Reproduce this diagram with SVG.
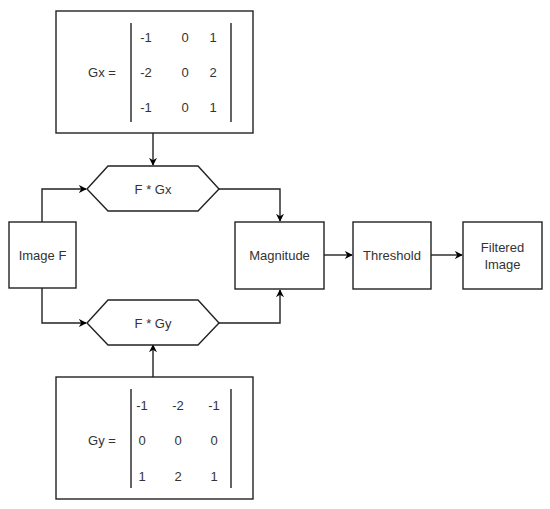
<svg xmlns="http://www.w3.org/2000/svg" width="550" height="509" viewBox="0 0 550 509">
<defs>
<marker id="arr" viewBox="0 0 10 10" refX="9" refY="5" markerWidth="8" markerHeight="8" markerUnits="userSpaceOnUse" orient="auto">
<path d="M0,0 L10,5 L0,10 L3,5 Z" fill="#000"/>
</marker>
<style>
.box{fill:#fff;stroke:#222;stroke-width:1.4}
.bar{fill:none;stroke:#222;stroke-width:1.4}
.t{font-family:"Liberation Sans",Arial,sans-serif;font-size:13px;fill:#333;text-anchor:middle;dominant-baseline:central}
.conn{fill:none;stroke:#222;stroke-width:1.4;marker-end:url(#arr)}
</style>
</defs>
<rect width="550" height="509" fill="#fff"/>
<g id="connectors">
<path class="conn" d="M153,133 L153,165"/>
<path class="conn" d="M153,377 L153,345"/>
<path class="conn" d="M42,222 L42,189 L86,189"/>
<path class="conn" d="M42,288 L42,323 L86,323"/>
<path class="conn" d="M219,189 L280,189 L280,221"/>
<path class="conn" d="M219,323 L280,323 L280,290"/>
<path class="conn" d="M324,255 L352,255"/>
<path class="conn" d="M431,255 L462,255"/>
</g>
<g id="gx">
<rect class="box" x="56" y="11" width="197" height="122"/>
<line class="bar" x1="131" y1="23" x2="131" y2="122"/>
<line class="bar" x1="231" y1="23" x2="231" y2="122"/>
<text class="t" x="102" y="72">Gx =</text>
<text class="t" x="146" y="37">-1</text><text class="t" x="185" y="37">0</text><text class="t" x="213" y="37">1</text>
<text class="t" x="146" y="72">-2</text><text class="t" x="185" y="72">0</text><text class="t" x="213" y="72">2</text>
<text class="t" x="146" y="107">-1</text><text class="t" x="185" y="107">0</text><text class="t" x="213" y="107">1</text>
</g>
<g id="gy">
<rect class="box" x="56" y="377" width="197" height="122"/>
<line class="bar" x1="131" y1="389" x2="131" y2="488"/>
<line class="bar" x1="231" y1="389" x2="231" y2="488"/>
<text class="t" x="102" y="440">Gy =</text>
<text class="t" x="142" y="405">-1</text><text class="t" x="178" y="405">-2</text><text class="t" x="214" y="405">-1</text>
<text class="t" x="142" y="440">0</text><text class="t" x="178" y="440">0</text><text class="t" x="214" y="440">0</text>
<text class="t" x="142" y="476">1</text><text class="t" x="178" y="476">2</text><text class="t" x="214" y="476">1</text>
</g>
<g id="fgx">
<polygon class="box" points="87,189 108,166 198,166 219,189 198,211 108,211"/>
<text class="t" x="153" y="189">F * Gx</text>
</g>
<g id="fgy">
<polygon class="box" points="87,323 108,300 198,300 219,323 198,345 108,345"/>
<text class="t" x="153" y="323">F * Gy</text>
</g>
<g id="imagef">
<rect class="box" x="9" y="222" width="67" height="66"/>
<text class="t" x="42.5" y="255">Image F</text>
</g>
<g id="magnitude">
<rect class="box" x="235" y="222" width="89" height="67"/>
<text class="t" x="279.5" y="255">Magnitude</text>
</g>
<g id="threshold">
<rect class="box" x="353" y="222" width="78" height="67"/>
<text class="t" x="392" y="255">Threshold</text>
</g>
<g id="filtered">
<rect class="box" x="463" y="222" width="79" height="67"/>
<text class="t" x="502.5" y="247">Filtered</text>
<text class="t" x="502.5" y="264">Image</text>
</g>
</svg>
